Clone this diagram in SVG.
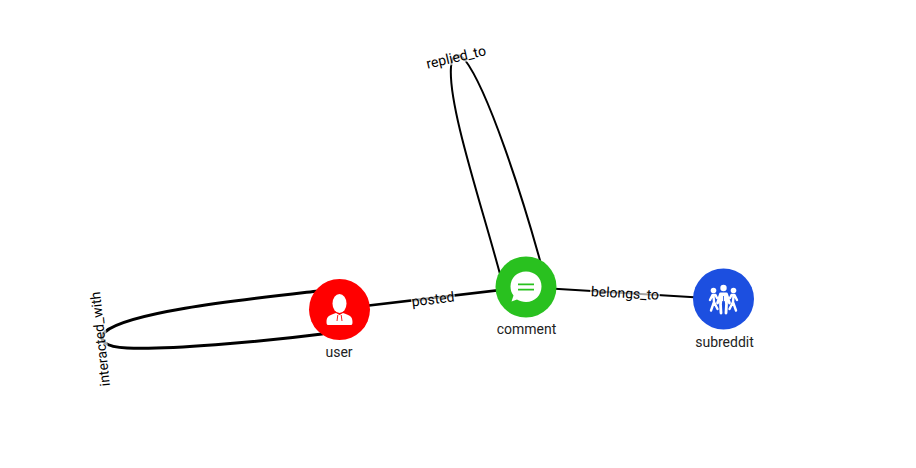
<svg xmlns="http://www.w3.org/2000/svg" width="916" height="468" viewBox="0 0 916 468">
<style>
.bg{fill:#fff}
.edge{fill:none;stroke:#000;stroke-linecap:round}
.lbl{font-family:Roboto,"Liberation Sans",sans-serif;font-size:14px;fill:#222;text-anchor:middle}
.halo{fill:#fff;fill-opacity:.65}
.elbl{font-family:Roboto,"Liberation Sans",sans-serif;font-size:14px;fill:#000;text-anchor:middle}
.ico{fill:#fff}
.fig{fill:none;stroke:#fff;stroke-linecap:round;stroke-linejoin:round}
</style>
<rect class="bg" width="916" height="468"/>
<g id="connectors">
<path class="edge" stroke-width="2.500" d="M339 309L526 287"/>
<path class="edge" stroke-width="2.200" d="M526 287L723 299"/>
<path class="edge" stroke-width="2" d="M500 274C480 200 448 105 451 67C452 54 458 52 465 60C488 90 522 195 541 264"/>
<path class="edge" stroke-width="3" d="M318 291C240 300 128 312 105 332C97 340 105 347 127 348C165 350 260 342 322 334"/>
</g>
<g id="edge-labels">
<g transform="rotate(-7 433 299)"><rect class="halo" x="411" y="292" width="44" height="14"/><text class="elbl" x="433" y="304">posted</text></g>
<g transform="rotate(3 625 293)"><rect class="halo" x="590" y="286" width="70" height="14"/><text class="elbl" x="625" y="298">belongs_to</text></g>
<g transform="rotate(-13 456 57)"><rect class="halo" x="427" y="50" width="58" height="14"/><text class="elbl" x="456" y="62">replied_to</text></g>
<g transform="rotate(-96 100 339)"><rect class="halo" x="54" y="332" width="92" height="14"/><text class="elbl" x="100" y="344">interacted_with</text></g>
</g>
<g id="user">
<circle cx="339.500" cy="309.500" r="30.500" fill="#ff0000"/>
<ellipse class="ico" cx="339.500" cy="303.500" rx="7" ry="9.500"/>
<path class="ico" d="M326.500 322C326.500 316 330 315 336 313L339.500 315L343 313C349 315 352.500 316 352.500 322C352.500 324.500 352 325 350 325H329C327 325 326.500 324.500 326.500 322Z"/>
<path d="M337.800 315L337 321M341.200 315L342 321" fill="none" stroke="#ff0000" stroke-width="0.900"/>
<text class="lbl" x="339" y="357">user</text>
</g>
<g id="comment">
<circle cx="526" cy="287" r="30.500" fill="#29c11f"/>
<path class="ico" d="M526 271.500C535 271.500 541.500 278 541.500 286.500C541.500 295 535 302 526 302C522.500 302 519.500 301 517 299.500L511.500 301.500L513.500 295.500C511.500 293 510.500 290 510.500 286.500C510.500 278 517 271.500 526 271.500Z"/>
<path d="M518 284.300H534M518 289.700H534" stroke="#29c11f" stroke-width="1.800" fill="none"/>
<text class="lbl" x="526.500" y="334">comment</text>
</g>
<g id="subreddit">
<circle cx="723.500" cy="299" r="30.500" fill="#1c4fe0"/>
<circle class="ico" cx="713.500" cy="290.500" r="2.800"/>
<circle class="ico" cx="723.500" cy="288" r="3.200"/>
<circle class="ico" cx="733.500" cy="290.500" r="2.800"/>
<path class="fig" stroke-width="2.400" d="M710 300L712.500 295H715.500L717 298M713.500 296L714 302L711 310.500M714 302L717.500 309"/>
<path class="fig" stroke-width="2.400" d="M737 300L734.500 295H731.500L730 298M733.500 296L733 302L736 310.500M733 302L729.500 309"/>
<path class="fig" stroke-width="2.800" d="M717.500 303L720.500 294H726.500L729.500 303M723.500 294V300M721.500 295L720.500 304L721 313M725.500 295L726.500 304L726 313"/>
<path d="M723.500 296V303" stroke="#1c4fe0" stroke-width="0.800" fill="none"/>
<text class="lbl" x="724.500" y="347">subreddit</text>
</g>
</svg>
